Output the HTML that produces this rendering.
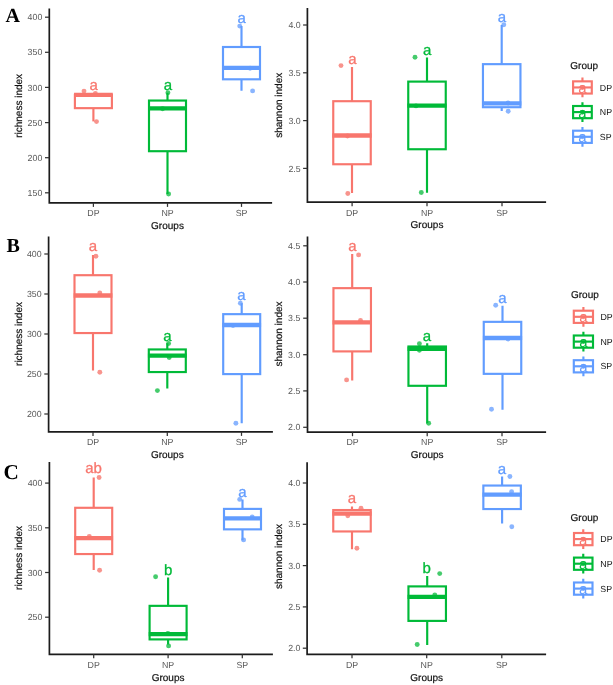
<!DOCTYPE html>
<html><head><meta charset="utf-8"><title>Alpha diversity boxplots</title>
<style>html,body{margin:0;padding:0;background:#fff;}body{width:613px;height:685px;overflow:hidden;font-family:"Liberation Sans",sans-serif;}svg{display:block;will-change:transform;text-rendering:geometricPrecision;}</style>
</head><body>
<svg width="613" height="685" viewBox="0 0 613 685" font-family="'Liberation Sans', sans-serif">
<rect width="613" height="685" fill="#fff"/>
<circle cx="84" cy="91.1" r="2.45" fill="#F8948D"/>
<circle cx="95.4" cy="93.4" r="2.45" fill="#F8948D"/>
<circle cx="96.5" cy="121.6" r="2.45" fill="#F8948D"/>
<path d="M93.4 94.9V94.9M93.4 108.15V121.4" stroke="#F8766D" stroke-width="2.15" fill="none"/>
<rect x="74.9" y="94.9" width="37.00" height="13.25" fill="none" stroke="#F8766D" stroke-width="2.15"/>
<path d="M74.03 94.9H112.78" stroke="#F8766D" stroke-width="4.3"/>
<text x="93.6" y="89.7" font-size="15" fill="#F8766D" stroke="#F8766D" stroke-width="0.3" text-anchor="middle">a</text>
<circle cx="167.9" cy="92.7" r="2.45" fill="#45CB6C"/>
<circle cx="162.6" cy="108.7" r="2.45" fill="#45CB6C"/>
<circle cx="168.6" cy="194" r="2.45" fill="#45CB6C"/>
<path d="M167.5 92.7V100.55M167.5 151.2V194" stroke="#00BA38" stroke-width="2.15" fill="none"/>
<rect x="149.0" y="100.55" width="37.00" height="50.65" fill="none" stroke="#00BA38" stroke-width="2.15"/>
<path d="M148.12 108.4H186.88" stroke="#00BA38" stroke-width="4.3"/>
<text x="167.9" y="90.0" font-size="15" fill="#00BA38" stroke="#00BA38" stroke-width="0.3" text-anchor="middle">a</text>
<circle cx="239.7" cy="26.1" r="2.45" fill="#8AB5FF"/>
<circle cx="250.1" cy="68.2" r="2.45" fill="#8AB5FF"/>
<circle cx="252.6" cy="90.9" r="2.45" fill="#8AB5FF"/>
<path d="M241.5 26.1V47.0M241.5 79.3V90.7" stroke="#619CFF" stroke-width="2.15" fill="none"/>
<rect x="223.0" y="47.0" width="37.00" height="32.30" fill="none" stroke="#619CFF" stroke-width="2.15"/>
<path d="M222.12 67.9H260.88" stroke="#619CFF" stroke-width="4.3"/>
<text x="241.7" y="22.7" font-size="15" fill="#619CFF" stroke="#619CFF" stroke-width="0.3" text-anchor="middle">a</text>
<path d="M49.3 8.5V202.9H272.1" stroke="#1c1c1c" stroke-width="1.7" fill="none" stroke-linejoin="miter"/>
<path d="M45.0 17.2H49.3" stroke="#333" stroke-width="1.25"/>
<text x="42.30" y="20.35" font-size="8.8" fill="#585858" text-anchor="end">400</text>
<path d="M45.0 52.3H49.3" stroke="#333" stroke-width="1.25"/>
<text x="42.30" y="55.45" font-size="8.8" fill="#585858" text-anchor="end">350</text>
<path d="M45.0 87.4H49.3" stroke="#333" stroke-width="1.25"/>
<text x="42.30" y="90.55" font-size="8.8" fill="#585858" text-anchor="end">300</text>
<path d="M45.0 122.6H49.3" stroke="#333" stroke-width="1.25"/>
<text x="42.30" y="125.75" font-size="8.8" fill="#585858" text-anchor="end">250</text>
<path d="M45.0 157.7H49.3" stroke="#333" stroke-width="1.25"/>
<text x="42.30" y="160.85" font-size="8.8" fill="#585858" text-anchor="end">200</text>
<path d="M45.0 192.8H49.3" stroke="#333" stroke-width="1.25"/>
<text x="42.30" y="195.95" font-size="8.8" fill="#585858" text-anchor="end">150</text>
<path d="M93.4 202.9V206.9" stroke="#333" stroke-width="1.25"/>
<text x="93.4" y="216.35" font-size="8.8" fill="#585858" text-anchor="middle">DP</text>
<path d="M167.5 202.9V206.9" stroke="#333" stroke-width="1.25"/>
<text x="167.5" y="216.35" font-size="8.8" fill="#585858" text-anchor="middle">NP</text>
<path d="M241.5 202.9V206.9" stroke="#333" stroke-width="1.25"/>
<text x="241.5" y="216.35" font-size="8.8" fill="#585858" text-anchor="middle">SP</text>
<text x="167.5" y="228.5" font-size="10" fill="#111" stroke="#111" stroke-width="0.2" text-anchor="middle">Groups</text>
<text transform="translate(22.3 105.9) rotate(-90)" font-size="10" fill="#111" stroke="#111" stroke-width="0.2" text-anchor="middle">richness index</text>
<circle cx="341" cy="65.6" r="2.45" fill="#F8948D"/>
<circle cx="347.5" cy="136" r="2.45" fill="#F8948D"/>
<circle cx="347.8" cy="193.5" r="2.45" fill="#F8948D"/>
<path d="M352.0 66.9V101.2M352.0 164.25V193.0" stroke="#F8766D" stroke-width="2.15" fill="none"/>
<rect x="333.25" y="101.2" width="37.50" height="63.05" fill="none" stroke="#F8766D" stroke-width="2.15"/>
<path d="M332.38 135.5H371.62" stroke="#F8766D" stroke-width="4.3"/>
<text x="352.3" y="63.8" font-size="15" fill="#F8766D" stroke="#F8766D" stroke-width="0.3" text-anchor="middle">a</text>
<circle cx="415" cy="57.3" r="2.45" fill="#45CB6C"/>
<circle cx="416" cy="105.9" r="2.45" fill="#45CB6C"/>
<circle cx="421.3" cy="192.5" r="2.45" fill="#45CB6C"/>
<path d="M427.0 57.5V81.6M427.0 149.25V192.8" stroke="#00BA38" stroke-width="2.15" fill="none"/>
<rect x="408.25" y="81.6" width="37.50" height="67.65" fill="none" stroke="#00BA38" stroke-width="2.15"/>
<path d="M407.38 105.7H446.62" stroke="#00BA38" stroke-width="4.3"/>
<text x="427.2" y="54.6" font-size="15" fill="#00BA38" stroke="#00BA38" stroke-width="0.3" text-anchor="middle">a</text>
<circle cx="503.8" cy="24.7" r="2.45" fill="#8AB5FF"/>
<circle cx="508" cy="103" r="2.45" fill="#8AB5FF"/>
<circle cx="508.2" cy="111.3" r="2.45" fill="#8AB5FF"/>
<path d="M501.7 25.0V64.15M501.7 107.2V111.1" stroke="#619CFF" stroke-width="2.15" fill="none"/>
<rect x="482.95" y="64.15" width="37.50" height="43.05" fill="none" stroke="#619CFF" stroke-width="2.15"/>
<path d="M482.07 103.3H521.33" stroke="#619CFF" stroke-width="4.3"/>
<text x="502" y="22.0" font-size="15" fill="#619CFF" stroke="#619CFF" stroke-width="0.3" text-anchor="middle">a</text>
<path d="M307.4 8.0V202.2H546.1" stroke="#1c1c1c" stroke-width="1.7" fill="none" stroke-linejoin="miter"/>
<path d="M303.1 25.0H307.4" stroke="#333" stroke-width="1.25"/>
<text x="300.70" y="28.15" font-size="8.8" fill="#585858" text-anchor="end">4.0</text>
<path d="M303.1 72.8H307.4" stroke="#333" stroke-width="1.25"/>
<text x="300.70" y="75.95" font-size="8.8" fill="#585858" text-anchor="end">3.5</text>
<path d="M303.1 120.6H307.4" stroke="#333" stroke-width="1.25"/>
<text x="300.70" y="123.75" font-size="8.8" fill="#585858" text-anchor="end">3.0</text>
<path d="M303.1 168.4H307.4" stroke="#333" stroke-width="1.25"/>
<text x="300.70" y="171.55" font-size="8.8" fill="#585858" text-anchor="end">2.5</text>
<path d="M352.1 202.2V206.2" stroke="#333" stroke-width="1.25"/>
<text x="352.1" y="216.05" font-size="8.8" fill="#585858" text-anchor="middle">DP</text>
<path d="M427 202.2V206.2" stroke="#333" stroke-width="1.25"/>
<text x="427" y="216.05" font-size="8.8" fill="#585858" text-anchor="middle">NP</text>
<path d="M502 202.2V206.2" stroke="#333" stroke-width="1.25"/>
<text x="502" y="216.05" font-size="8.8" fill="#585858" text-anchor="middle">SP</text>
<text x="427" y="227.9" font-size="10" fill="#111" stroke="#111" stroke-width="0.2" text-anchor="middle">Groups</text>
<text transform="translate(282.1 105.3) rotate(-90)" font-size="10" fill="#111" stroke="#111" stroke-width="0.2" text-anchor="middle">shannon index</text>
<circle cx="95.9" cy="256.3" r="2.45" fill="#F8948D"/>
<circle cx="99.8" cy="293" r="2.45" fill="#F8948D"/>
<circle cx="99.8" cy="372.3" r="2.45" fill="#F8948D"/>
<path d="M93 254.9V275.2M93 333.05V370.6" stroke="#F8766D" stroke-width="2.15" fill="none"/>
<rect x="74.5" y="275.2" width="37.00" height="57.85" fill="none" stroke="#F8766D" stroke-width="2.15"/>
<path d="M73.62 295.5H112.38" stroke="#F8766D" stroke-width="4.3"/>
<text x="93" y="250.9" font-size="15" fill="#F8766D" stroke="#F8766D" stroke-width="0.3" text-anchor="middle">a</text>
<circle cx="168.6" cy="343.5" r="2.45" fill="#45CB6C"/>
<circle cx="169.2" cy="357.5" r="2.45" fill="#45CB6C"/>
<circle cx="157.4" cy="390.6" r="2.45" fill="#45CB6C"/>
<path d="M167.3 343.3V349.45M167.3 372.05V388.5" stroke="#00BA38" stroke-width="2.15" fill="none"/>
<rect x="148.8" y="349.45" width="37.00" height="22.60" fill="none" stroke="#00BA38" stroke-width="2.15"/>
<path d="M147.93 355.6H186.68" stroke="#00BA38" stroke-width="4.3"/>
<text x="167.3" y="341.3" font-size="15" fill="#00BA38" stroke="#00BA38" stroke-width="0.3" text-anchor="middle">a</text>
<circle cx="240.4" cy="303.2" r="2.45" fill="#8AB5FF"/>
<circle cx="233" cy="325.5" r="2.45" fill="#8AB5FF"/>
<circle cx="235.9" cy="423.2" r="2.45" fill="#8AB5FF"/>
<path d="M241.7 303.3V314.15M241.7 374.1V423.2" stroke="#619CFF" stroke-width="2.15" fill="none"/>
<rect x="223.2" y="314.15" width="37.00" height="59.95" fill="none" stroke="#619CFF" stroke-width="2.15"/>
<path d="M222.32 325H261.07" stroke="#619CFF" stroke-width="4.3"/>
<text x="241.5" y="299.9" font-size="15" fill="#619CFF" stroke="#619CFF" stroke-width="0.3" text-anchor="middle">a</text>
<path d="M48.6 236.6V431.9H272.9" stroke="#1c1c1c" stroke-width="1.7" fill="none" stroke-linejoin="miter"/>
<path d="M44.3 254.0H48.6" stroke="#333" stroke-width="1.25"/>
<text x="41.60" y="257.15" font-size="8.8" fill="#585858" text-anchor="end">400</text>
<path d="M44.3 294.0H48.6" stroke="#333" stroke-width="1.25"/>
<text x="41.60" y="297.15" font-size="8.8" fill="#585858" text-anchor="end">350</text>
<path d="M44.3 334.0H48.6" stroke="#333" stroke-width="1.25"/>
<text x="41.60" y="337.15" font-size="8.8" fill="#585858" text-anchor="end">300</text>
<path d="M44.3 374.0H48.6" stroke="#333" stroke-width="1.25"/>
<text x="41.60" y="377.15" font-size="8.8" fill="#585858" text-anchor="end">250</text>
<path d="M44.3 414.0H48.6" stroke="#333" stroke-width="1.25"/>
<text x="41.60" y="417.15" font-size="8.8" fill="#585858" text-anchor="end">200</text>
<path d="M93 431.9V435.9" stroke="#333" stroke-width="1.25"/>
<text x="93" y="445.25" font-size="8.8" fill="#585858" text-anchor="middle">DP</text>
<path d="M167.3 431.9V435.9" stroke="#333" stroke-width="1.25"/>
<text x="167.3" y="445.25" font-size="8.8" fill="#585858" text-anchor="middle">NP</text>
<path d="M241.5 431.9V435.9" stroke="#333" stroke-width="1.25"/>
<text x="241.5" y="445.25" font-size="8.8" fill="#585858" text-anchor="middle">SP</text>
<text x="167.3" y="458.0" font-size="10" fill="#111" stroke="#111" stroke-width="0.2" text-anchor="middle">Groups</text>
<text transform="translate(22.3 334) rotate(-90)" font-size="10" fill="#111" stroke="#111" stroke-width="0.2" text-anchor="middle">richness index</text>
<circle cx="358.6" cy="254.9" r="2.45" fill="#F8948D"/>
<circle cx="360.5" cy="320.4" r="2.45" fill="#F8948D"/>
<circle cx="346.6" cy="379.9" r="2.45" fill="#F8948D"/>
<path d="M352.2 253.9V288.15M352.2 351.4V380.4" stroke="#F8766D" stroke-width="2.15" fill="none"/>
<rect x="333.45" y="288.15" width="37.50" height="63.25" fill="none" stroke="#F8766D" stroke-width="2.15"/>
<path d="M332.57 322.4H371.82" stroke="#F8766D" stroke-width="4.3"/>
<text x="352.5" y="250.9" font-size="15" fill="#F8766D" stroke="#F8766D" stroke-width="0.3" text-anchor="middle">a</text>
<circle cx="419.4" cy="343.7" r="2.45" fill="#45CB6C"/>
<circle cx="419.4" cy="350.3" r="2.45" fill="#45CB6C"/>
<circle cx="428.7" cy="423.2" r="2.45" fill="#45CB6C"/>
<path d="M427.2 343.2V346.5M427.2 385.8V423.2" stroke="#00BA38" stroke-width="2.15" fill="none"/>
<rect x="408.45" y="346.5" width="37.50" height="39.30" fill="none" stroke="#00BA38" stroke-width="2.15"/>
<path d="M407.57 348.9H446.82" stroke="#00BA38" stroke-width="4.3"/>
<text x="427" y="340.7" font-size="15" fill="#00BA38" stroke="#00BA38" stroke-width="0.3" text-anchor="middle">a</text>
<circle cx="495.7" cy="305.3" r="2.45" fill="#8AB5FF"/>
<circle cx="508" cy="339" r="2.45" fill="#8AB5FF"/>
<circle cx="491.5" cy="409.2" r="2.45" fill="#8AB5FF"/>
<path d="M502.5 305.7V321.85M502.5 373.85V409.7" stroke="#619CFF" stroke-width="2.15" fill="none"/>
<rect x="483.75" y="321.85" width="37.50" height="52.00" fill="none" stroke="#619CFF" stroke-width="2.15"/>
<path d="M482.88 338H522.12" stroke="#619CFF" stroke-width="4.3"/>
<text x="502.5" y="302.8" font-size="15" fill="#619CFF" stroke="#619CFF" stroke-width="0.3" text-anchor="middle">a</text>
<path d="M307.5 236.5V432.2H546.1" stroke="#1c1c1c" stroke-width="1.7" fill="none" stroke-linejoin="miter"/>
<path d="M303.2 245.8H307.5" stroke="#333" stroke-width="1.25"/>
<text x="300.30" y="248.95" font-size="8.8" fill="#585858" text-anchor="end">4.5</text>
<path d="M303.2 282H307.5" stroke="#333" stroke-width="1.25"/>
<text x="300.30" y="285.15" font-size="8.8" fill="#585858" text-anchor="end">4.0</text>
<path d="M303.2 318.2H307.5" stroke="#333" stroke-width="1.25"/>
<text x="300.30" y="321.35" font-size="8.8" fill="#585858" text-anchor="end">3.5</text>
<path d="M303.2 354.7H307.5" stroke="#333" stroke-width="1.25"/>
<text x="300.30" y="357.85" font-size="8.8" fill="#585858" text-anchor="end">3.0</text>
<path d="M303.2 390.9H307.5" stroke="#333" stroke-width="1.25"/>
<text x="300.30" y="394.05" font-size="8.8" fill="#585858" text-anchor="end">2.5</text>
<path d="M303.2 427.3H307.5" stroke="#333" stroke-width="1.25"/>
<text x="300.30" y="430.45" font-size="8.8" fill="#585858" text-anchor="end">2.0</text>
<path d="M352.5 432.2V436.2" stroke="#333" stroke-width="1.25"/>
<text x="352.5" y="445.45" font-size="8.8" fill="#585858" text-anchor="middle">DP</text>
<path d="M427.2 432.2V436.2" stroke="#333" stroke-width="1.25"/>
<text x="427.2" y="445.45" font-size="8.8" fill="#585858" text-anchor="middle">NP</text>
<path d="M502 432.2V436.2" stroke="#333" stroke-width="1.25"/>
<text x="502" y="445.45" font-size="8.8" fill="#585858" text-anchor="middle">SP</text>
<text x="427.2" y="458.1" font-size="10" fill="#111" stroke="#111" stroke-width="0.2" text-anchor="middle">Groups</text>
<text transform="translate(281.6 334) rotate(-90)" font-size="10" fill="#111" stroke="#111" stroke-width="0.2" text-anchor="middle">shannon index</text>
<circle cx="99.1" cy="477.5" r="2.45" fill="#F8948D"/>
<circle cx="89.3" cy="536.4" r="2.45" fill="#F8948D"/>
<circle cx="99.6" cy="570.3" r="2.45" fill="#F8948D"/>
<path d="M93.7 477.5V507.8M93.7 554.05V570.0" stroke="#F8766D" stroke-width="2.15" fill="none"/>
<rect x="75.2" y="507.8" width="37.00" height="46.25" fill="none" stroke="#F8766D" stroke-width="2.15"/>
<path d="M74.33 538.1H113.08" stroke="#F8766D" stroke-width="4.3"/>
<text x="93.5" y="473.4" font-size="15" fill="#F8766D" stroke="#F8766D" stroke-width="0.3" text-anchor="middle">ab</text>
<circle cx="155.6" cy="576.7" r="2.45" fill="#45CB6C"/>
<circle cx="167.9" cy="633.4" r="2.45" fill="#45CB6C"/>
<circle cx="168.6" cy="645.9" r="2.45" fill="#45CB6C"/>
<path d="M168.1 577.5V605.85M168.1 639.4V644.6" stroke="#00BA38" stroke-width="2.15" fill="none"/>
<rect x="149.6" y="605.85" width="37.00" height="33.55" fill="none" stroke="#00BA38" stroke-width="2.15"/>
<path d="M148.72 634.2H187.47" stroke="#00BA38" stroke-width="4.3"/>
<text x="168.1" y="575.4" font-size="15" fill="#00BA38" stroke="#00BA38" stroke-width="0.3" text-anchor="middle">b</text>
<circle cx="239.7" cy="499.4" r="2.45" fill="#8AB5FF"/>
<circle cx="252.2" cy="516.9" r="2.45" fill="#8AB5FF"/>
<circle cx="243.6" cy="539.9" r="2.45" fill="#8AB5FF"/>
<path d="M242.5 499.4V508.9M242.5 529.35V540.3" stroke="#619CFF" stroke-width="2.15" fill="none"/>
<rect x="224.0" y="508.9" width="37.00" height="20.45" fill="none" stroke="#619CFF" stroke-width="2.15"/>
<path d="M223.12 518.4H261.88" stroke="#619CFF" stroke-width="4.3"/>
<text x="242.3" y="497.3" font-size="15" fill="#619CFF" stroke="#619CFF" stroke-width="0.3" text-anchor="middle">a</text>
<path d="M49.4 461.9V654.3H272.9" stroke="#1c1c1c" stroke-width="1.7" fill="none" stroke-linejoin="miter"/>
<path d="M45.1 483.1H49.4" stroke="#333" stroke-width="1.25"/>
<text x="42.40" y="486.25" font-size="8.8" fill="#585858" text-anchor="end">400</text>
<path d="M45.1 527.8H49.4" stroke="#333" stroke-width="1.25"/>
<text x="42.40" y="530.95" font-size="8.8" fill="#585858" text-anchor="end">350</text>
<path d="M45.1 572.5H49.4" stroke="#333" stroke-width="1.25"/>
<text x="42.40" y="575.65" font-size="8.8" fill="#585858" text-anchor="end">300</text>
<path d="M45.1 617.2H49.4" stroke="#333" stroke-width="1.25"/>
<text x="42.40" y="620.35" font-size="8.8" fill="#585858" text-anchor="end">250</text>
<path d="M93.7 654.3V658.3" stroke="#333" stroke-width="1.25"/>
<text x="93.7" y="667.75" font-size="8.8" fill="#585858" text-anchor="middle">DP</text>
<path d="M168.1 654.3V658.3" stroke="#333" stroke-width="1.25"/>
<text x="168.1" y="667.75" font-size="8.8" fill="#585858" text-anchor="middle">NP</text>
<path d="M242.3 654.3V658.3" stroke="#333" stroke-width="1.25"/>
<text x="242.3" y="667.75" font-size="8.8" fill="#585858" text-anchor="middle">SP</text>
<text x="168.1" y="681.0" font-size="10" fill="#111" stroke="#111" stroke-width="0.2" text-anchor="middle">Groups</text>
<text transform="translate(22.3 558) rotate(-90)" font-size="10" fill="#111" stroke="#111" stroke-width="0.2" text-anchor="middle">richness index</text>
<circle cx="361" cy="508.3" r="2.45" fill="#F8948D"/>
<circle cx="347.8" cy="515.7" r="2.45" fill="#F8948D"/>
<circle cx="356.9" cy="548.2" r="2.45" fill="#F8948D"/>
<path d="M352 506.4V510.05M352 531.45V549.2" stroke="#F8766D" stroke-width="2.15" fill="none"/>
<rect x="333.25" y="510.05" width="37.50" height="21.40" fill="none" stroke="#F8766D" stroke-width="2.15"/>
<path d="M332.38 513.7H371.62" stroke="#F8766D" stroke-width="4.3"/>
<text x="352" y="503.4" font-size="15" fill="#F8766D" stroke="#F8766D" stroke-width="0.3" text-anchor="middle">a</text>
<circle cx="439.7" cy="573.6" r="2.45" fill="#45CB6C"/>
<circle cx="434.8" cy="594.9" r="2.45" fill="#45CB6C"/>
<circle cx="417.2" cy="644.5" r="2.45" fill="#45CB6C"/>
<path d="M427.2 576V586.4M427.2 620.9V645" stroke="#00BA38" stroke-width="2.15" fill="none"/>
<rect x="408.45" y="586.4" width="37.50" height="34.50" fill="none" stroke="#00BA38" stroke-width="2.15"/>
<path d="M407.57 596.8H446.82" stroke="#00BA38" stroke-width="4.3"/>
<text x="426.7" y="572.8" font-size="15" fill="#00BA38" stroke="#00BA38" stroke-width="0.3" text-anchor="middle">b</text>
<circle cx="509.9" cy="476.5" r="2.45" fill="#8AB5FF"/>
<circle cx="511.6" cy="491.7" r="2.45" fill="#8AB5FF"/>
<circle cx="511.8" cy="526.7" r="2.45" fill="#8AB5FF"/>
<path d="M502.1 476.5V485.55M502.1 509.05V523.5" stroke="#619CFF" stroke-width="2.15" fill="none"/>
<rect x="483.35" y="485.55" width="37.50" height="23.50" fill="none" stroke="#619CFF" stroke-width="2.15"/>
<path d="M482.48 494.6H521.73" stroke="#619CFF" stroke-width="4.3"/>
<text x="501.8" y="474.1" font-size="15" fill="#619CFF" stroke="#619CFF" stroke-width="0.3" text-anchor="middle">a</text>
<path d="M307.1 462.3V654.3H546.1" stroke="#1c1c1c" stroke-width="1.7" fill="none" stroke-linejoin="miter"/>
<path d="M302.8 483.0H307.1" stroke="#333" stroke-width="1.25"/>
<text x="300.40" y="486.15" font-size="8.8" fill="#585858" text-anchor="end">4.0</text>
<path d="M302.8 524.3H307.1" stroke="#333" stroke-width="1.25"/>
<text x="300.40" y="527.45" font-size="8.8" fill="#585858" text-anchor="end">3.5</text>
<path d="M302.8 565.6H307.1" stroke="#333" stroke-width="1.25"/>
<text x="300.40" y="568.75" font-size="8.8" fill="#585858" text-anchor="end">3.0</text>
<path d="M302.8 606.9H307.1" stroke="#333" stroke-width="1.25"/>
<text x="300.40" y="610.05" font-size="8.8" fill="#585858" text-anchor="end">2.5</text>
<path d="M302.8 648.2H307.1" stroke="#333" stroke-width="1.25"/>
<text x="300.40" y="651.35" font-size="8.8" fill="#585858" text-anchor="end">2.0</text>
<path d="M352 654.3V658.3" stroke="#333" stroke-width="1.25"/>
<text x="352" y="667.75" font-size="8.8" fill="#585858" text-anchor="middle">DP</text>
<path d="M426.7 654.3V658.3" stroke="#333" stroke-width="1.25"/>
<text x="426.7" y="667.75" font-size="8.8" fill="#585858" text-anchor="middle">NP</text>
<path d="M501.8 654.3V658.3" stroke="#333" stroke-width="1.25"/>
<text x="501.8" y="667.75" font-size="8.8" fill="#585858" text-anchor="middle">SP</text>
<text x="426.7" y="681.0" font-size="10" fill="#111" stroke="#111" stroke-width="0.2" text-anchor="middle">Groups</text>
<text transform="translate(281.7 556.5) rotate(-90)" font-size="10" fill="#111" stroke="#111" stroke-width="0.2" text-anchor="middle">shannon index</text>
<text x="570.3" y="68.7" font-size="10" fill="#111" stroke="#111" stroke-width="0.2">Group</text>
<circle cx="582.45" cy="87.45" r="2.45" fill="#F8948D"/>
<path d="M582.45 77.60V81.35M582.45 93.55V97.30" stroke="#F8766D" stroke-width="2.15"/>
<rect x="573.1" y="81.35" width="18.70" height="12.2" fill="none" stroke="#F8766D" stroke-width="2.15"/>
<path d="M573.1 87.45H591.8" stroke="#F8766D" stroke-width="2.15"/>
<text x="582.45" y="93.05" font-size="15" fill="#F8766D" text-anchor="middle">a</text>
<text x="599.8" y="90.6" font-size="8.8" fill="#111">DP</text>
<circle cx="582.45" cy="112.1" r="2.45" fill="#45CB6C"/>
<path d="M582.45 102.25V106.0M582.45 118.2V121.95" stroke="#00BA38" stroke-width="2.15"/>
<rect x="573.1" y="106.0" width="18.70" height="12.2" fill="none" stroke="#00BA38" stroke-width="2.15"/>
<path d="M573.1 112.1H591.8" stroke="#00BA38" stroke-width="2.15"/>
<text x="582.45" y="117.7" font-size="15" fill="#00BA38" text-anchor="middle">a</text>
<text x="599.8" y="115.25" font-size="8.8" fill="#111">NP</text>
<circle cx="582.45" cy="136.8" r="2.45" fill="#8AB5FF"/>
<path d="M582.45 126.95V130.7M582.45 142.9V146.65" stroke="#619CFF" stroke-width="2.15"/>
<rect x="573.1" y="130.7" width="18.70" height="12.2" fill="none" stroke="#619CFF" stroke-width="2.15"/>
<path d="M573.1 136.8H591.8" stroke="#619CFF" stroke-width="2.15"/>
<text x="582.45" y="142.4" font-size="15" fill="#619CFF" text-anchor="middle">a</text>
<text x="599.8" y="139.95" font-size="8.8" fill="#111">SP</text>
<text x="571.0" y="297.7" font-size="10" fill="#111" stroke="#111" stroke-width="0.2">Group</text>
<circle cx="583.40" cy="316.8" r="2.45" fill="#F8948D"/>
<path d="M583.40 306.95V310.7M583.40 322.9V326.65" stroke="#F8766D" stroke-width="2.15"/>
<rect x="573.8" y="310.7" width="19.20" height="12.2" fill="none" stroke="#F8766D" stroke-width="2.15"/>
<path d="M573.8 316.8H593.0" stroke="#F8766D" stroke-width="2.15"/>
<text x="583.40" y="322.4" font-size="15" fill="#F8766D" text-anchor="middle">a</text>
<text x="600.5" y="319.95" font-size="8.8" fill="#111">DP</text>
<circle cx="583.40" cy="341.6" r="2.45" fill="#45CB6C"/>
<path d="M583.40 331.75V335.5M583.40 347.7V351.45" stroke="#00BA38" stroke-width="2.15"/>
<rect x="573.8" y="335.5" width="19.20" height="12.2" fill="none" stroke="#00BA38" stroke-width="2.15"/>
<path d="M573.8 341.6H593.0" stroke="#00BA38" stroke-width="2.15"/>
<text x="583.40" y="347.2" font-size="15" fill="#00BA38" text-anchor="middle">a</text>
<text x="600.5" y="344.75" font-size="8.8" fill="#111">NP</text>
<circle cx="583.40" cy="366.3" r="2.45" fill="#8AB5FF"/>
<path d="M583.40 356.45V360.2M583.40 372.4V376.15" stroke="#619CFF" stroke-width="2.15"/>
<rect x="573.8" y="360.2" width="19.20" height="12.2" fill="none" stroke="#619CFF" stroke-width="2.15"/>
<path d="M573.8 366.3H593.0" stroke="#619CFF" stroke-width="2.15"/>
<text x="583.40" y="371.9" font-size="15" fill="#619CFF" text-anchor="middle">a</text>
<text x="600.5" y="369.45" font-size="8.8" fill="#111">SP</text>
<text x="570.6" y="520.8" font-size="10" fill="#111" stroke="#111" stroke-width="0.2">Group</text>
<circle cx="583.25" cy="539.1" r="2.45" fill="#F8948D"/>
<path d="M583.25 529.25V533.0M583.25 545.2V548.95" stroke="#F8766D" stroke-width="2.15"/>
<rect x="574.0" y="533.0" width="18.50" height="12.2" fill="none" stroke="#F8766D" stroke-width="2.15"/>
<path d="M574.0 539.1H592.5" stroke="#F8766D" stroke-width="2.15"/>
<text x="583.25" y="544.7" font-size="15" fill="#F8766D" text-anchor="middle">a</text>
<text x="600.3" y="542.25" font-size="8.8" fill="#111">DP</text>
<circle cx="583.25" cy="563.7" r="2.45" fill="#45CB6C"/>
<path d="M583.25 553.85V557.6M583.25 569.8V573.55" stroke="#00BA38" stroke-width="2.15"/>
<rect x="574.0" y="557.6" width="18.50" height="12.2" fill="none" stroke="#00BA38" stroke-width="2.15"/>
<path d="M574.0 563.7H592.5" stroke="#00BA38" stroke-width="2.15"/>
<text x="583.25" y="569.3" font-size="15" fill="#00BA38" text-anchor="middle">a</text>
<text x="600.3" y="566.85" font-size="8.8" fill="#111">NP</text>
<circle cx="583.25" cy="588.6" r="2.45" fill="#8AB5FF"/>
<path d="M583.25 578.75V582.5M583.25 594.7V598.45" stroke="#619CFF" stroke-width="2.15"/>
<rect x="574.0" y="582.5" width="18.50" height="12.2" fill="none" stroke="#619CFF" stroke-width="2.15"/>
<path d="M574.0 588.6H592.5" stroke="#619CFF" stroke-width="2.15"/>
<text x="583.25" y="594.2" font-size="15" fill="#619CFF" text-anchor="middle">a</text>
<text x="600.3" y="591.75" font-size="8.8" fill="#111">SP</text>
<text x="5.6" y="22.4" font-family="'Liberation Serif', serif" font-weight="bold" font-size="20" fill="#000">A</text>
<text x="6.6" y="251.8" font-family="'Liberation Serif', serif" font-weight="bold" font-size="20" fill="#000">B</text>
<text x="3.4" y="478.9" font-family="'Liberation Serif', serif" font-weight="bold" font-size="21.2" fill="#000">C</text>
</svg>
</body></html>
